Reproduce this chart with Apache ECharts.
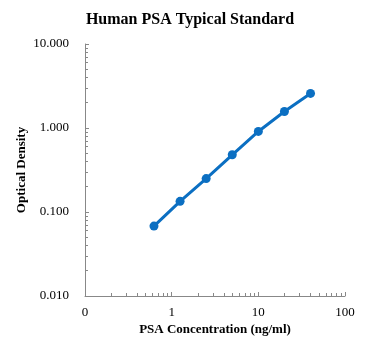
<!DOCTYPE html>
<html><head><meta charset="utf-8">
<script src="https://cdn.jsdelivr.net/npm/echarts@6/dist/echarts.min.js"></script>
<style>html,body{margin:0;padding:0;background:#fff}#c{width:369px;height:353px}</style>
</head><body><div id="c"></div>
<script>
const concentrations = [0.625, 1.25, 2.5, 5, 10, 20, 40];
const odValues = [0.068, 0.134, 0.25, 0.48, 0.91, 1.57, 2.58];
const yTickLabels = ['0.010', '0.100', '1.000', '10.000'];
const xTickLabels = ['0', '1', '10', '100'];
const xMinorTicks = [0.2,0.3,0.4,0.5,0.6,0.7,0.8,0.9, 2,3,4,5,6,7,8,9, 20,30,40,50,60,70,80,90];
const yMinorTicks = [0.02,0.03,0.04,0.05,0.06,0.07,0.08,0.09, 0.2,0.3,0.4,0.5,0.6,0.7,0.8,0.9, 2,3,4,5,6,7,8,9];

const chart = echarts.init(document.getElementById('c'));
const font = '"Liberation Serif", "Times New Roman", serif';
const axisColor = '#888';
const nameStyle = {fontFamily: font, fontSize: 13, fontWeight: 'bold', color: '#000'};
const labelStyle = {fontFamily: font, fontSize: 13, color: '#000'};
chart.setOption({
  animation: false,
  title: {
    text: 'Human PSA Typical Standard', left: 185, top: 7, textAlign: 'center',
    textStyle: {fontFamily: font, fontSize: 16, fontWeight: 'bold', color: '#000'}
  },
  grid: {left: 85, right: 24, top: 44, bottom: 57, containLabel: false},
  xAxis: [{
    type: 'log', logBase: 10, min: 0.1, max: 100,
    name: 'PSA Concentration (ng/ml)', nameLocation: 'middle', nameGap: 27, nameMoveOverlap: false,
    nameTextStyle: nameStyle,
    axisLine: {lineStyle: {color: axisColor}},
    axisTick: {inside: true, length: 4, lineStyle: {color: axisColor}},
    splitLine: {show: false},
    axisLabel: Object.assign({margin: 10,
      formatter: v => xTickLabels[Math.round(Math.log10(v)) + 1]}, labelStyle)
  }, {
    type: 'log', logBase: 10, min: 0.1, max: 100, position: 'bottom', offset: 0,
    axisLine: {show: false},
    axisTick: {inside: true, length: 3, customValues: xMinorTicks, lineStyle: {color: axisColor}},
    axisLabel: {show: false}, splitLine: {show: false}
  }],
  yAxis: [{
    type: 'log', logBase: 10, min: 0.01, max: 10,
    name: 'Optical Density', nameLocation: 'middle', nameGap: 57, nameMoveOverlap: false,
    nameTextStyle: nameStyle,
    axisLine: {show: true, lineStyle: {color: axisColor}},
    axisTick: {show: true, inside: true, length: 4, lineStyle: {color: axisColor}},
    splitLine: {show: false},
    axisLabel: Object.assign({margin: 16,
      formatter: v => yTickLabels[Math.round(Math.log10(v)) + 2]}, labelStyle)
  }, {
    type: 'log', logBase: 10, min: 0.01, max: 10, position: 'left', offset: 0,
    axisLine: {show: false},
    axisTick: {show: true, inside: true, length: 3, customValues: yMinorTicks, lineStyle: {color: axisColor}},
    axisLabel: {show: false}, splitLine: {show: false}
  }],
  series: [{
    type: 'line',
    data: concentrations.map((c, i) => [c, odValues[i]]),
    symbol: 'circle', symbolSize: 9,
    lineStyle: {color: '#0B6FC2', width: 3},
    itemStyle: {color: '#0B6FC2'}
  }]
});
</script></body></html>
